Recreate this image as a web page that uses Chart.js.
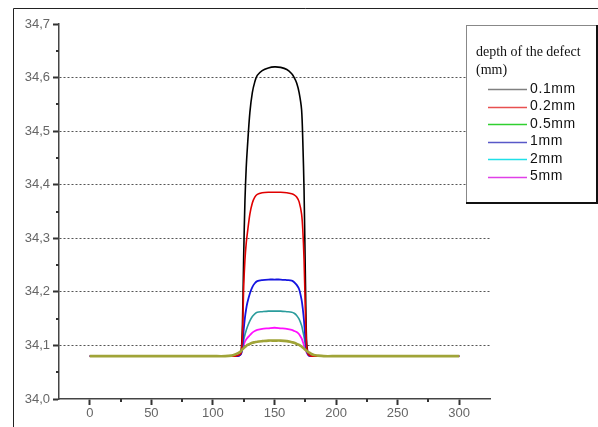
<!DOCTYPE html>
<html>
<head>
<meta charset="utf-8">
<script src="https://cdn.jsdelivr.net/npm/chart.js@4.4.1/dist/chart.umd.min.js"></script>
<style>
  body { margin: 0; background: #fff; }
  #wrap { position: relative; width: 598px; height: 427px; }
</style>
</head>
<body>
<div id="wrap"><canvas id="defectChart" width="598" height="427"></canvas></div>
<script>
// position along the scan
const xValues = [0, 50, 100, 110, 115, 118, 120, 122, 123, 124, 125, 126, 127, 128, 130, 132, 134, 136, 140, 145,
  150, 155, 160, 164, 166, 168, 170, 172, 173, 174, 175, 176, 177, 178, 180, 182, 185, 190, 200, 250, 300];

const depth01 = [34.08, 34.08, 34.08, 34.08, 34.08, 34.08, 34.081, 34.083, 34.09, 34.14, 34.27, 34.37, 34.43, 34.47, 34.535, 34.572, 34.592, 34.604, 34.613, 34.618,
  34.62, 34.619, 34.615, 34.607, 34.6, 34.59, 34.572, 34.54, 34.48, 34.39, 34.24, 34.11, 34.087, 34.083, 34.081, 34.08, 34.08, 34.08, 34.08, 34.08, 34.08];
const depth02 = [34.08, 34.08, 34.08, 34.08, 34.08, 34.08, 34.081, 34.083, 34.088, 34.12, 34.21, 34.26, 34.29, 34.31, 34.345, 34.366, 34.377, 34.382, 34.385, 34.386,
  34.386, 34.386, 34.385, 34.383, 34.381, 34.377, 34.368, 34.345, 34.315, 34.26, 34.17, 34.1, 34.086, 34.082, 34.08, 34.08, 34.08, 34.08, 34.08, 34.08, 34.08];
const depth05 = [34.08, 34.08, 34.08, 34.08, 34.081, 34.083, 34.085, 34.088, 34.09, 34.093, 34.095, 34.097, 34.099, 34.101, 34.103, 34.105, 34.106, 34.107, 34.108, 34.109,
  34.109, 34.109, 34.108, 34.106, 34.105, 34.103, 34.101, 34.098, 34.096, 34.094, 34.092, 34.09, 34.088, 34.087, 34.084, 34.082, 34.081, 34.08, 34.08, 34.08, 34.08];
const depth1 = [34.08, 34.08, 34.08, 34.08, 34.08, 34.08, 34.08, 34.082, 34.086, 34.1, 34.13, 34.152, 34.168, 34.18, 34.197, 34.209, 34.216, 34.22, 34.222, 34.223,
  34.223, 34.223, 34.222, 34.221, 34.218, 34.213, 34.205, 34.185, 34.168, 34.145, 34.115, 34.092, 34.084, 34.081, 34.08, 34.08, 34.08, 34.08, 34.08, 34.08, 34.08];
const depth2 = [34.08, 34.08, 34.08, 34.08, 34.08, 34.08, 34.08, 34.082, 34.085, 34.095, 34.11, 34.12, 34.128, 34.135, 34.146, 34.154, 34.159, 34.162, 34.163, 34.164,
  34.164, 34.164, 34.163, 34.162, 34.16, 34.156, 34.149, 34.137, 34.127, 34.116, 34.102, 34.09, 34.084, 34.081, 34.08, 34.08, 34.08, 34.08, 34.08, 34.08, 34.08];
const depth5 = [34.08, 34.08, 34.08, 34.08, 34.08, 34.08, 34.08, 34.082, 34.085, 34.093, 34.101, 34.107, 34.111, 34.114, 34.119, 34.124, 34.127, 34.129, 34.131, 34.132,
  34.133, 34.132, 34.131, 34.129, 34.127, 34.125, 34.121, 34.113, 34.107, 34.1, 34.093, 34.087, 34.083, 34.081, 34.08, 34.08, 34.08, 34.08, 34.08, 34.08, 34.08];

const seriesLabels = ['0.1mm', '0.2mm', '0.5mm', '1mm', '2mm', '5mm'];
const legendTitle = ['depth of the defect', '(mm)'];
const xTicks = [0, 50, 100, 150, 200, 250, 300];
const yTicks = [34.0, 34.1, 34.2, 34.3, 34.4, 34.5, 34.6, 34.7];

const toPoints = (ys) => xValues.map((x, i) => ({ x: x, y: ys[i] }));

const makeSet = (label, ys, color, legendColor, width, order) => ({
  label: label,
  data: toPoints(ys),
  borderColor: color,
  legendColor: legendColor,
  borderWidth: width,
  pointRadius: 0,
  tension: 0.3,
  fill: false,
  order: order,
});

// frame, minor ticks and the boxed legend
const extras = {
  id: 'extras',
  beforeDraw(chart) {
    const ctx = chart.ctx;
    ctx.save();
    ctx.strokeStyle = '#222';
    ctx.lineWidth = 1;
    ctx.beginPath();
    ctx.moveTo(13.5, 427);
    ctx.lineTo(13.5, 8.5);
    ctx.lineTo(598, 8.5);
    ctx.stroke();
    ctx.restore();
  },
  afterDraw(chart) {
    const ctx = chart.ctx;
    const xs = chart.scales.x;
    const ys = chart.scales.y;
    const area = chart.chartArea;
    ctx.save();
    ctx.strokeStyle = '#333';
    ctx.lineWidth = 2;
    for (let v = 25; v < 325; v += 50) {
      const px = Math.round(xs.getPixelForValue(v));
      ctx.beginPath();
      ctx.moveTo(px, area.bottom);
      ctx.lineTo(px, area.bottom + 3);
      ctx.stroke();
    }
    for (let k = 0; k < 7; k++) {
      const py = Math.round(ys.getPixelForValue(34.05 + k * 0.1));
      ctx.beginPath();
      ctx.moveTo(area.left - 3, py);
      ctx.lineTo(area.left, py);
      ctx.stroke();
    }

    // legend box
    const bx = 466, by = 25, bw = 130, bh = 177;
    ctx.fillStyle = '#fff';
    ctx.fillRect(bx, by, bw, bh);
    ctx.strokeStyle = '#888';
    ctx.lineWidth = 1;
    ctx.strokeRect(bx + 0.5, by + 0.5, bw, bh);
    ctx.strokeStyle = '#111';
    ctx.lineWidth = 2;
    ctx.beginPath();
    ctx.moveTo(bx, by + bh + 1);
    ctx.lineTo(bx + bw + 1, by + bh + 1);
    ctx.lineTo(bx + bw + 1, by);
    ctx.stroke();

    ctx.fillStyle = '#111';
    ctx.textBaseline = 'middle';
    ctx.textAlign = 'left';
    ctx.font = '14px "Liberation Serif", "Times New Roman", serif';
    ctx.fillText(legendTitle[0], 476, 52);
    ctx.fillText(legendTitle[1], 476, 70);

    ctx.font = '14px "Liberation Sans", Arial, sans-serif';
    ctx.letterSpacing = '0.6px';
    chart.data.datasets.forEach((ds, i) => {
      const cy = 89 + i * 17.5;
      ctx.strokeStyle = ds.legendColor;
      ctx.lineWidth = 1.3;
      ctx.beginPath();
      ctx.moveTo(488, Math.round(cy) + 0.5);
      ctx.lineTo(527, Math.round(cy) + 0.5);
      ctx.stroke();
      ctx.fillStyle = '#111';
      ctx.fillText(ds.label, 530, cy);
    });
    ctx.restore();
  },
};

const isEdge = (v) => Math.abs(v - 34.0) < 1e-6 || Math.abs(v - 34.7) < 1e-6;

new Chart(document.getElementById('defectChart'), {
  type: 'line',
  data: {
    datasets: [
      makeSet(seriesLabels[0], depth01, '#000000', '#808080', 1.6, 2),
      makeSet(seriesLabels[1], depth02, '#e00000', '#e85050', 1.6, 1),
      makeSet(seriesLabels[2], depth05, '#a0a438', '#30d030', 2.6, 0),
      makeSet(seriesLabels[3], depth1, '#1515e0', '#5858c8', 1.8, 1),
      makeSet(seriesLabels[4], depth2, '#2a9c9c', '#20e0e8', 1.6, 1),
      makeSet(seriesLabels[5], depth5, '#ff10ff', '#e040e8', 1.8, 1),
    ],
  },
  options: {
    responsive: false,
    animation: false,
    layout: { padding: { left: 0, right: 108, top: 24, bottom: 0 } },
    plugins: { legend: { display: false }, tooltip: { enabled: false } },
    scales: {
      x: {
        type: 'linear',
        min: -25,
        max: 325,
        afterBuildTicks: (s) => { s.ticks = xTicks.map((v) => ({ value: v })); },
        afterFit: (s) => { s.height = 28; },
        grid: { drawOnChartArea: false, tickLength: 6, tickColor: '#333', tickWidth: 2 },
        border: { color: '#444', width: 1.5 },
        ticks: {
          color: '#666',
          padding: 1,
          maxRotation: 0,
          autoSkip: false,
          font: { family: '"Liberation Sans", Arial, sans-serif', size: 13 },
        },
      },
      y: {
        min: 34.0,
        max: 34.7,
        afterBuildTicks: (s) => { s.ticks = yTicks.map((v) => ({ value: v })); },
        afterFit: (s) => { s.width = 59; },
        grid: {
          color: (c) => (c.tick && isEdge(c.tick.value) ? 'rgba(0,0,0,0)' : '#555'),
          lineWidth: 1,
          tickLength: 6,
          tickColor: '#333',
          tickWidth: 2,
        },
        border: { color: '#444', width: 1.5, dash: [2, 2] },
        ticks: {
          color: '#666',
          padding: 3,
          callback: (v) => v.toFixed(1).replace('.', ','),
          font: { family: '"Liberation Sans", Arial, sans-serif', size: 13 },
        },
      },
    },
  },
  plugins: [extras],
});
</script>
</body>
</html>
